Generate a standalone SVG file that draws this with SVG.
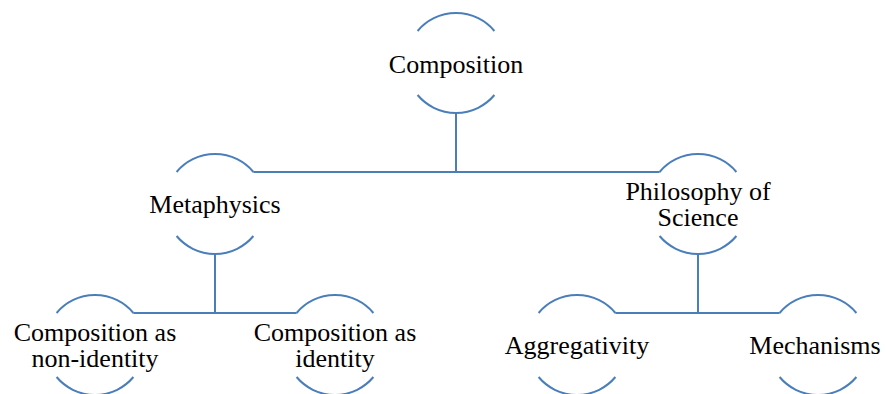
<svg xmlns="http://www.w3.org/2000/svg" width="887" height="394" viewBox="0 0 887 394">
<style>
.arc{fill:none;stroke:#4a7ebb;stroke-width:2}
.con{fill:none;stroke:#4a7ebb;stroke-width:2}
.lbl{font-family:'Liberation Serif','Times New Roman',Tinos,'DejaVu Serif',serif;font-size:26px;fill:#000;text-anchor:middle}
</style>
<defs>
<path id="ring" class="arc" d="M-38.4,-32 A50,50 0 0 1 38.4,-32 M-38.4,32 A50,50 0 0 0 38.4,32"/>
</defs>
<rect width="887" height="394" fill="#fff"/>
<g id="connectors">
<path class="con" d="M456,113 V172 M253.4,172 H659.6"/>
<path class="con" d="M215,254 V313 M133.4,313 H296.6"/>
<path class="con" d="M698,254 V313 M615.4,313 H779.6"/>
</g>
<g id="composition">
<use href="#ring" x="456" y="63"/>
<text class="lbl" font-family="Liberation Serif, serif" x="456" y="72.5">Composition</text>
</g>
<g id="metaphysics">
<use href="#ring" x="215" y="204"/>
<text class="lbl" font-family="Liberation Serif, serif" x="215" y="213">Metaphysics</text>
</g>
<g id="philosophy-of-science">
<use href="#ring" x="698" y="204"/>
<text class="lbl" font-family="Liberation Serif, serif" x="698" y="199.5">Philosophy of</text>
<text class="lbl" font-family="Liberation Serif, serif" x="698" y="225.5">Science</text>
</g>
<g id="composition-non-identity">
<use href="#ring" x="95" y="345"/>
<text class="lbl" font-family="Liberation Serif, serif" x="95" y="341">Composition as</text>
<text class="lbl" font-family="Liberation Serif, serif" x="95" y="367">non-identity</text>
</g>
<g id="composition-identity">
<use href="#ring" x="335" y="345"/>
<text class="lbl" font-family="Liberation Serif, serif" x="335" y="341">Composition as</text>
<text class="lbl" font-family="Liberation Serif, serif" x="335" y="367">identity</text>
</g>
<g id="aggregativity">
<use href="#ring" x="577" y="345"/>
<text class="lbl" font-family="Liberation Serif, serif" x="577" y="354">Aggregativity</text>
</g>
<g id="mechanisms">
<use href="#ring" x="818" y="345"/>
<text class="lbl" font-family="Liberation Serif, serif" x="815" y="354">Mechanisms</text>
</g>
</svg>
